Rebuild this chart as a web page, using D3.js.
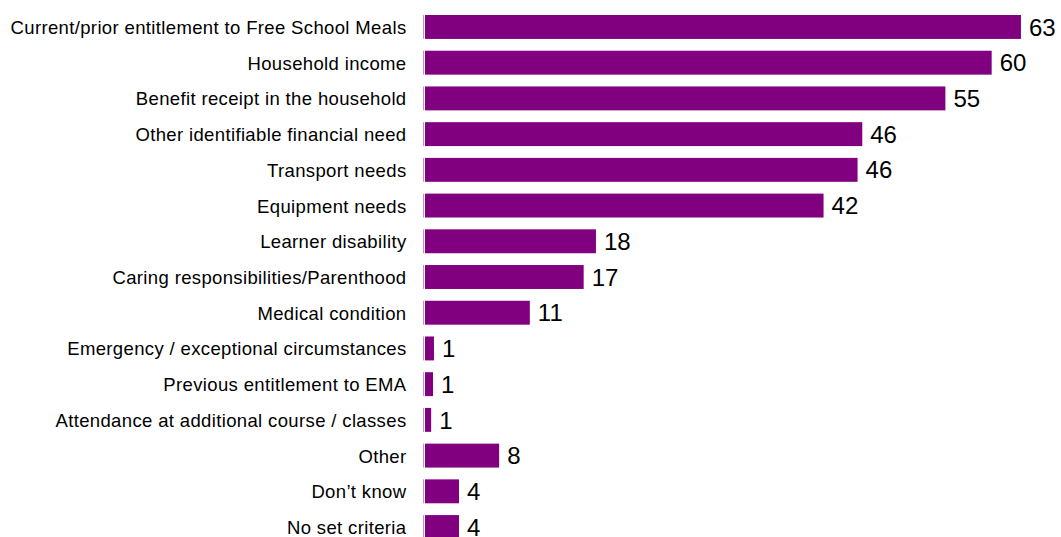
<!DOCTYPE html>
<html>
<head>
<meta charset="utf-8">
<script src="https://cdn.jsdelivr.net/npm/d3@7/dist/d3.min.js"></script>
<style>
  html, body { margin: 0; padding: 0; background: #fff; overflow: hidden; }
  svg { display: block; }
  text { font-family: "Liberation Sans", Arial, sans-serif; fill: #000; }
</style>
</head>
<body>
<svg id="chart" width="1061" height="537"></svg>
<script>
const categories = [
  "Current/prior entitlement to Free School Meals",
  "Household income",
  "Benefit receipt in the household",
  "Other identifiable financial need",
  "Transport needs ",
  "Equipment needs",
  "Learner disability",
  "Caring responsibilities/Parenthood",
  "Medical condition",
  "Emergency / exceptional circumstances",
  "Previous entitlement to EMA",
  "Attendance at additional course / classes",
  "Other",
  "Don\u2019t know",
  "No set criteria"
];
const values = [63.1, 60.0, 55.1, 46.3, 45.8, 42.2, 18.1, 16.8, 11.1, 0.95, 0.85, 0.65, 7.85, 3.6, 3.6];
const valueLabels = ["63", "60", "55", "46", "46", "42", "18", "17", "11", "1", "1", "1", "8", "4", "4"];

const data = categories.map((c, i) => ({ c, v: values[i], l: valueLabels[i] }));

const svg = d3.select("#chart");
const x0 = 425;
const x = d3.scaleLinear().domain([0, 63]).range([x0, x0 + 595]);
const step = 35.72;
const y = d3.scaleBand()
  .domain(categories)
  .range([15 - 0.165 * step, 15 - 0.165 * step + 15 * step])
  .paddingInner(0.33)
  .paddingOuter(0.165);

// thin axis segments at the left of each bar
svg.append("g").selectAll("line")
  .data(data).join("line")
  .attr("x1", x0 - 1.5).attr("x2", x0 - 1.5)
  .attr("y1", d => y(d.c)).attr("y2", d => y(d.c) + y.bandwidth())
  .attr("stroke", "#c690c6").attr("stroke-width", 1);

svg.append("g").selectAll("rect")
  .data(data).join("rect")
  .attr("x", x(0))
  .attr("y", d => y(d.c))
  .attr("width", d => x(d.v) - x(0))
  .attr("height", y.bandwidth())
  .attr("fill", "#800080");

svg.append("g").selectAll("text")
  .data(data).join("text")
  .attr("x", 406.5)
  .attr("y", d => y(d.c) + y.bandwidth() / 2)
  .attr("dy", "0.38em")
  .attr("text-anchor", "end")
  .style("font-size", "18.5px")
  .style("letter-spacing", "0.36px")
  .text(d => d.c.trim());

svg.append("g").selectAll("text")
  .data(data).join("text")
  .attr("x", d => x(d.v) + 8)
  .attr("y", d => y(d.c) + y.bandwidth() / 2)
  .attr("dy", "0.36em")
  .style("font-size", "24px")
  .text(d => d.l);
</script>
</body>
</html>
